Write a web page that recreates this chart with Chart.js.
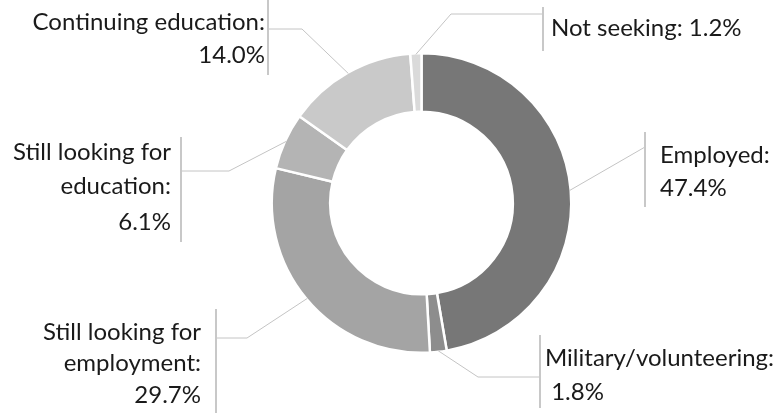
<!DOCTYPE html>
<html lang="en">
<head>
    <meta charset="UTF-8">
    <title>Outcomes</title>
    <script src="https://cdn.jsdelivr.net/npm/chart.js"></script>
    <style>
        body {
            margin: 0;
            background: white;
        }
        .wrap {
            width: 778px;
            height: 413px;
            position: relative;
        }
    </style>
</head>
<body>
    <div class="wrap">
        <canvas id="myChart"></canvas>
    </div>

    <script>
        // data, clockwise from 12 o'clock
        const categories = ['Employed', 'Military/volunteering', 'Still looking for employment',
            'Still looking for education', 'Continuing education', 'Not seeking'];
        const percents = [47.4, 1.8, 29.7, 6.1, 14.0, 1.2];
        const labelLines = [
            ['Employed:', '47.4%'],
            ['Military/volunteering:', ' 1.8%'],
            ['Still looking for', 'employment:', '29.7%'],
            ['Still looking for', 'education:', '6.1%'],
            ['Continuing education:', '14.0%'],
            ['Not seeking: 1.2%']
        ];
        const sliceColors = ['#777777', '#8d8d8d', '#a4a4a4', '#b4b4b4', '#c9c9c9', '#dadada'];

        // where each callout sits (bar x, bar top/bottom, leader y, elbow x, text x, text side)
        const callouts = [
            { barX: 645, top: 132, bottom: 207, lineY: 147, elbowX: null, textX: 660, side: 'right', lineYs: [155, 188] },
            { barX: 540, top: 335, bottom: 408, lineY: 377, elbowX: 478, textX: 545, side: 'right', lineYs: [358, 392] },
            { barX: 216, top: 309, bottom: 413, lineY: 338, elbowX: 247, textX: 201, side: 'left', lineYs: [332, 363, 395] },
            { barX: 181, top: 137, bottom: 242, lineY: 171, elbowX: 229, textX: 171, side: 'left', lineYs: [152, 186, 222] },
            { barX: 268, top: 0, bottom: 75, lineY: 29, elbowX: 302, textX: 265, side: 'left', lineYs: [22, 55] },
            { barX: 543, top: 7, bottom: 51, lineY: 14, elbowX: 451, textX: 551, side: 'right', lineYs: [28] }
        ];

        const calloutPlugin = {
            id: 'callouts',
            afterDraw(chart) {
                const c = chart.ctx;
                const arcs = chart.getDatasetMeta(0).data;
                c.save();
                arcs.forEach((arc, i) => {
                    const co = callouts[i];
                    const mid = (arc.startAngle + arc.endAngle) / 2;
                    const r = arc.outerRadius - 1;
                    const sx = arc.x + Math.cos(mid) * r;
                    const sy = arc.y + Math.sin(mid) * r;

                    // leader line
                    c.strokeStyle = '#c4c4c4';
                    c.lineWidth = 1;
                    c.beginPath();
                    c.moveTo(sx, sy);
                    if (co.elbowX !== null) c.lineTo(co.elbowX, co.lineY);
                    c.lineTo(co.barX, co.lineY);
                    c.stroke();

                    // vertical bar
                    c.strokeStyle = '#c8c8c8';
                    c.lineWidth = 2;
                    c.beginPath();
                    c.moveTo(co.barX, co.top);
                    c.lineTo(co.barX, co.bottom);
                    c.stroke();

                    // text
                    c.fillStyle = '#1a1a1a';
                    c.font = '24px Lato';
                    c.textBaseline = 'middle';
                    c.textAlign = co.side === 'right' ? 'left' : 'right';
                    labelLines[i].forEach((t, k) => c.fillText(t, co.textX, co.lineYs[k]));
                });
                c.restore();
            }
        };

        const ctx = document.getElementById('myChart').getContext('2d');
        new Chart(ctx, {
            type: 'doughnut',
            data: {
                labels: categories,
                datasets: [{
                    data: percents,
                    backgroundColor: sliceColors,
                    borderColor: '#ffffff',
                    borderWidth: 2.5
                }]
            },
            options: {
                responsive: true,
                maintainAspectRatio: false,
                animation: false,
                cutout: '61%',
                layout: { padding: { top: 52, bottom: 59, left: 65, right: 0 } },
                plugins: {
                    legend: { display: false },
                    tooltip: { enabled: false }
                }
            },
            plugins: [calloutPlugin]
        });
    </script>
</body>
</html>
